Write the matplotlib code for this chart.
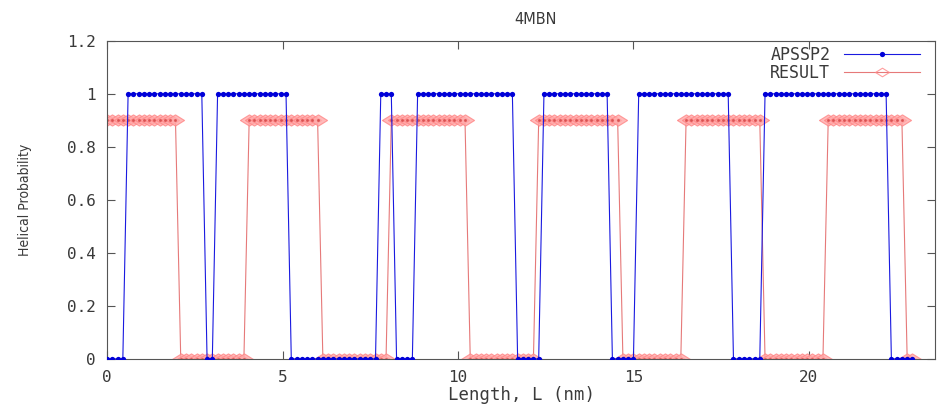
import matplotlib
matplotlib.use('Agg')
import matplotlib.pyplot as plt
import numpy as np

# per-residue helix calls for 4MBN (154 residues, 0.15 nm rise per residue)
RISE_NM = 0.15
# APSSP2 prediction: 1 = helix, 0 = not helix
apssp2_states = (
    "0000" "111111111111111" "00" "11111111111111" "00000000000000000"
    "111" "0000" "1111111111111111111" "00000" "1111111111111"
    "00000" "111111111111111111" "000000" "111111111111111111111111" "00000"
)
# RESULT: helical probability in tenths (9 -> 0.9)
result_states = (
    "99999999999999" "0000000000000" "99999999999999" "0000000000000"
    "999999999999999" "0000000000000" "9999999999999999" "000000000000"
    "999999999999999" "000000000000" "999999999999999" "00"
)

apssp2 = np.array([float(c) for c in apssp2_states])
result = np.array([int(c) / 10 for c in result_states])
length_nm = np.arange(len(apssp2)) * RISE_NM

x_ticks = [0, 5, 10, 15, 20]
y_ticks = [0, 0.2, 0.4, 0.6, 0.8, 1.0, 1.2]
y_tick_labels = ['0', '0.2', '0.4', '0.6', '0.8', '1', '1.2']

mono = 'DejaVu Sans Mono'
txt = '#3a3a3a'

# flattened diamond like the gnuplot point
flat_diamond = [(-1, 0), (0, 0.62), (1, 0), (0, -0.62), (-1, 0)]

fig = plt.figure(figsize=(9.39, 4.12), dpi=100)
ax = fig.add_axes([0.114, 0.129, 0.882, 0.772])

ax.plot(length_nm, result, color='#e05858', lw=0.8, marker=flat_diamond,
        ms=13, mfc='#ffaaaa', mec='#ff8686', mew=0.8, alpha=0.8,
        label='RESULT', zorder=2)
ax.plot(length_nm, result, ls='none', marker='.', ms=2.5, color='#d84848',
        alpha=0.7, zorder=2.5)
ax.plot(length_nm, apssp2, color='#1a1ae0', lw=0.8, marker='o', ms=3.8,
        mfc='#0000d8', mec='#0000d8', mew=0, label='APSSP2', zorder=3)

ax.set_xlim(0, 23.6)
ax.set_ylim(0, 1.2)
ax.set_xticks(x_ticks)
ax.set_xticklabels([str(t) for t in x_ticks], family=mono, fontsize=11.5,
                   color=txt)
ax.set_yticks(y_ticks)
ax.set_yticklabels(y_tick_labels, family=mono, fontsize=11.5, color=txt)
ax.tick_params(direction='in', length=6, width=0.8, color='#555555',
               top=True, right=True, pad=8)
for sp in ax.spines.values():
    sp.set_color('#555555')
    sp.set_linewidth(0.8)

ax.set_title('4MBN', fontsize=10.5, color=txt, pad=12, x=0.517)
ax.set_xlabel('Length, L (nm)', family=mono, fontsize=12.5, color=txt,
              labelpad=1)
ax.set_ylabel('Helical Probability', fontsize=10, color=txt,
              fontstretch='condensed', labelpad=25)

handles, labels = ax.get_legend_handles_labels()
leg = ax.legend(handles[::-1], labels[::-1], loc='upper right',
                bbox_to_anchor=(1.0, 1.03), frameon=False, markerfirst=False,
                handlelength=4.6, handletextpad=0.8, labelspacing=0.0,
                prop={'family': mono, 'size': 12}, numpoints=1)
for t in leg.get_texts():
    t.set_color(txt)
for h in leg.legend_handles:
    if h.get_label() == 'RESULT':
        h.set_markersize(10)
        h.set_markerfacecolor('none')

fig.savefig('out.png', dpi=100, facecolor='white')
